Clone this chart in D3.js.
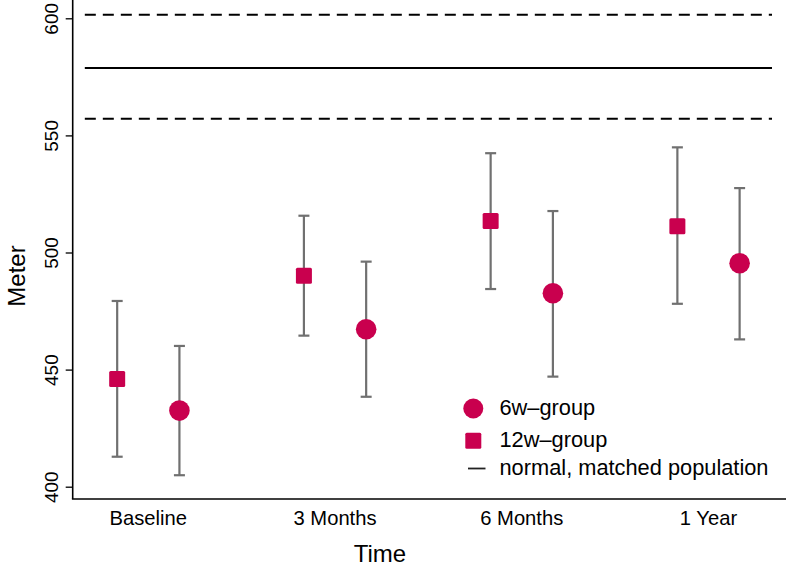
<!DOCTYPE html>
<html><head><meta charset="utf-8">
<script src="https://cdn.jsdelivr.net/npm/d3@7"></script>
<style>
html,body{margin:0;padding:0;background:#fff;}
svg{display:block;}
text{font-family:"Liberation Sans",Arial,Helvetica,sans-serif;fill:#000;}
</style></head>
<body>
<svg id="chart" width="786" height="570"></svg>
<script>
const categories = ["Baseline", "3 Months", "6 Months", "1 Year"];
const w12Mean  = [446.0, 490.1, 513.4, 511.2];
const w12Lower = [412.8, 464.5, 484.4, 478.1];
const w12Upper = [479.3, 515.7, 542.4, 544.9];
const w6Mean   = [432.5, 467.2, 482.6, 495.4];
const w6Lower  = [404.9, 438.4, 447.0, 462.9];
const w6Upper  = [460.1, 496.1, 517.7, 527.5];
const refValues = [601.5, 578.8, 557.1];
const refDashed = [true, false, true];
const yTicks = [400, 450, 500, 550, 600];
const legendLabels = ["6w\u2013group", "12w\u2013group", "normal, matched population"];

const color = "#C9004E";
const barColor = "#707070";

const svg = d3.select("#chart");
const x = d3.scaleLinear().domain([1, 4]).range([148.3, 708.5]);
const y = d3.scaleLinear().domain([400, 600]).range([486.7, 18.3]);
const off = 1 / 6;
const axisX = 72.7, axisY = 499;

// axes lines
svg.append("line").attr("x1", axisX).attr("x2", axisX).attr("y1", 0).attr("y2", axisY)
  .attr("stroke", "#000").attr("stroke-width", 1.6);
svg.append("line").attr("x1", axisX - 0.8).attr("x2", 786).attr("y1", axisY).attr("y2", axisY)
  .attr("stroke", "#000").attr("stroke-width", 1.6);

// y axis ticks
const yAxis = d3.axisLeft(y).tickValues(yTicks).tickSize(7).tickPadding(0).tickFormat(d3.format("d"));
const gy = svg.append("g").attr("transform", `translate(${axisX},0)`).call(yAxis);
gy.select(".domain").remove();
gy.selectAll(".tick line").attr("stroke", "#000").attr("stroke-width", 1.3);
gy.selectAll(".tick text")
  .attr("x", 0).attr("dy", null)
  .attr("transform", "translate(-20,0) rotate(-90)")
  .attr("text-anchor", "middle")
  .attr("dominant-baseline", "middle")
  .style("font-size", "19px")
  .style("font-family", "'Liberation Sans', Arial, sans-serif")
  .attr("fill", "#000");

// x category labels
svg.selectAll("text.xcat").data(categories).join("text")
  .attr("class", "xcat")
  .attr("x", (d, i) => x(i + 1)).attr("y", 524.5)
  .attr("text-anchor", "middle")
  .style("font-size", "20.2px")
  .text(d => d);

// axis titles
svg.append("text").attr("x", 380).attr("y", 562).attr("text-anchor", "middle")
  .style("font-size", "24px").text("Time");
svg.append("text").attr("transform", "translate(25,276) rotate(-90)").attr("text-anchor", "middle")
  .style("font-size", "24px").text("Meter");

// reference lines
const refX = [0.66, 4.34];
svg.selectAll("line.ref").data(refValues).join("line")
  .attr("class", "ref")
  .attr("x1", x(refX[0])).attr("x2", x(refX[1]))
  .attr("y1", d => y(d)).attr("y2", d => y(d))
  .attr("stroke", "#000").attr("stroke-width", 2)
  .attr("stroke-dasharray", (d, i) => refDashed[i] ? "11,7" : null);

// error bars
function errorBars(lower, upper, dx) {
  const g = svg.append("g");
  lower.forEach((lo, i) => {
    const cx = x(i + 1 + dx);
    g.append("line").attr("x1", cx).attr("x2", cx).attr("y1", y(lo)).attr("y2", y(upper[i]))
      .attr("stroke", barColor).attr("stroke-width", 2.2);
    [lo, upper[i]].forEach(v => {
      g.append("line").attr("x1", cx - 5.5).attr("x2", cx + 5.5).attr("y1", y(v)).attr("y2", y(v))
        .attr("stroke", barColor).attr("stroke-width", 2.2);
    });
  });
}
errorBars(w12Lower, w12Upper, -off);
errorBars(w6Lower, w6Upper, off);

// markers
const sq = 16;
svg.selectAll("rect.w12").data(w12Mean).join("rect")
  .attr("class", "w12")
  .attr("x", (d, i) => x(i + 1 - off) - sq / 2).attr("y", d => y(d) - sq / 2)
  .attr("width", sq).attr("height", sq).attr("rx", 1.5)
  .attr("fill", color);
svg.selectAll("circle.w6").data(w6Mean).join("circle")
  .attr("class", "w6")
  .attr("cx", (d, i) => x(i + 1 + off)).attr("cy", d => y(d)).attr("r", 10.3)
  .attr("fill", color);

// legend
const lg = svg.append("g");
const legY = [408.5, 440.7, 468.5];
lg.append("circle").attr("cx", 473.3).attr("cy", legY[0]).attr("r", 10).attr("fill", color);
lg.append("rect").attr("x", 473.3 - 8).attr("y", legY[1] - 8).attr("width", 16).attr("height", 16)
  .attr("rx", 1.5).attr("fill", color);
lg.append("line").attr("x1", 468).attr("x2", 485.5).attr("y1", legY[2]).attr("y2", legY[2])
  .attr("stroke", "#222").attr("stroke-width", 1.8);
lg.selectAll("text").data(legendLabels).join("text")
  .attr("x", 499.5).attr("y", (d, i) => legY[i] - 1)
  .attr("dominant-baseline", "central")
  .style("font-size", "21.8px")
  .text(d => d);
</script>
</body></html>
